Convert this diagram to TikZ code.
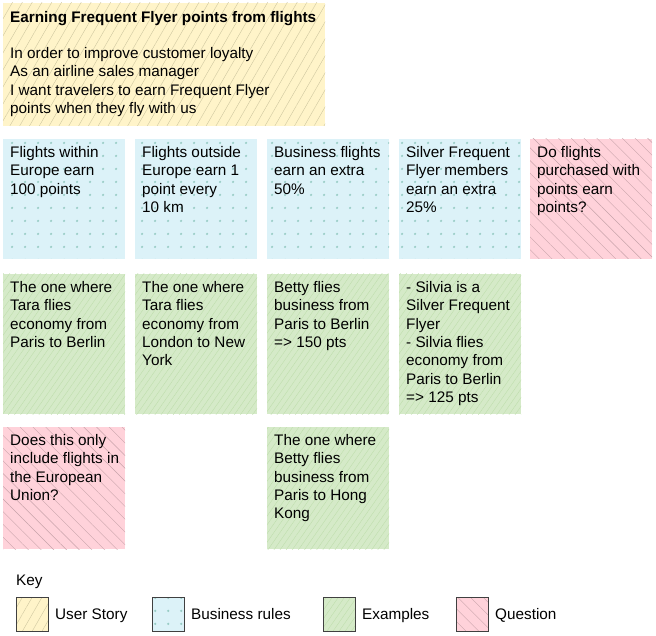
\documentclass[tikz,border=0pt]{standalone}
\usepackage{fontspec}
\setmainfont{Liberation Sans}
\usetikzlibrary{patterns.meta}

\definecolor{storyfill}{HTML}{FFF4C9}
\definecolor{storyline}{HTML}{CFC7A0}
\definecolor{rulefill}{HTML}{DCF2F8}
\definecolor{ruledot}{HTML}{98CCC5}
\definecolor{examplefill}{HTML}{D5EAC8}
\definecolor{exampleline}{HTML}{BBDCA8}
\definecolor{questionfill}{HTML}{FFD2DA}
\definecolor{questionline}{HTML}{C8A3AA}

\tikzset{
  story/.style={preaction={fill=storyfill},pattern={Lines[angle=60,distance=8.5pt,line width=.4pt]},pattern color=storyline},
  rule/.style={preaction={fill=rulefill},pattern={Dots[distance=13pt,radius=1.3pt]},pattern color=ruledot},
  example/.style={preaction={fill=examplefill},pattern={Lines[angle=55,distance=5pt,line width=.3pt]},pattern color=exampleline},
  question/.style={preaction={fill=questionfill},pattern={Lines[angle=-45,distance=9pt,line width=.4pt]},pattern color=questionline},
  cardtext/.style={anchor=north west,inner sep=0pt,align=left,font=\fontsize{15.3}{18.4}\selectfont},
  keytext/.style={anchor=base west,inner sep=0pt,font=\fontsize{15.3}{18}\selectfont},
  keybox/.style={draw=black!75,line width=.8pt}
}

\begin{document}
\begin{tikzpicture}[x=1pt,y=-1pt]
  \useasboundingbox (0,0) rectangle (656,636);

  % user story
  \path[story] (3,3) rectangle (325,126);
  \node[cardtext,font=\fontsize{15.3}{18.4}\selectfont\bfseries] (title) at (10,11) {Earning Frequent Flyer points from flights};
  \node[cardtext] (story) at (10,47) {In order to improve customer loyalty\\As an airline sales manager\\I want travelers to earn Frequent Flyer\\points when they fly with us};

  % business rules
  \foreach \x/\n/\t in {3/1/{Flights within\\Europe earn\\100 points},
                        135/2/{Flights outside\\Europe earn 1\\point every\\10 km},
                        267/3/{Business flights\\earn an extra\\50\%},
                        399/4/{Silver Frequent\\Flyer members\\earn an extra\\25\%}} {
    \path[rule] (\x,139) rectangle ({\x+122},259);
    \node[cardtext] (rule\n) at ({\x+7},146) {\t};
  }

  % examples
  \foreach \x/\y/\h/\n/\t in {3/274/140/1/{The one where\\Tara flies\\economy from\\Paris to Berlin},
                              135/274/140/2/{The one where\\Tara flies\\economy from\\London to New\\York},
                              267/274/140/3/{Betty flies\\business from\\Paris to Berlin\\=> 150 pts},
                              399/274/140/4/{- Silvia is a\\Silver Frequent\\Flyer\\- Silvia flies\\economy from\\Paris to Berlin\\=> 125 pts},
                              267/427/122/5/{The one where\\Betty flies\\business from\\Paris to Hong\\Kong}} {
    \path[example] (\x,\y) rectangle ({\x+122},{\y+\h});
    \node[cardtext] (example\n) at ({\x+7},{\y+7}) {\t};
  }

  % questions
  \path[question] (530,139) rectangle (652,259);
  \node[cardtext] (question1) at (537,146) {Do flights\\purchased with\\points earn\\points?};
  \path[question] (3,427) rectangle (125,549);
  \node[cardtext] (question2) at (10,434) {Does this only\\include flights in\\the European\\Union?};

  % key
  \node[keytext] (key) at (16,585) {Key};
  \foreach \x/\s/\l in {16/story/User Story,152/rule/Business rules,323/example/Examples,456/question/Question} {
    \path[\s] (\x,597) rectangle ({\x+32},631);
    \draw[keybox] (\x,597) rectangle ({\x+32},631);
    \node[keytext] (key\s) at ({\x+39},619) {\l};
  }
\end{tikzpicture}
\end{document}
